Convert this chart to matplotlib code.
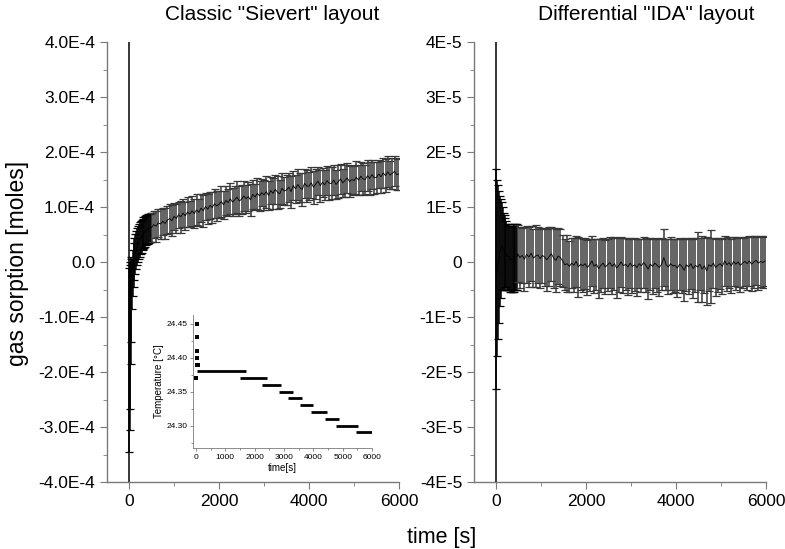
import numpy as np
import matplotlib
matplotlib.use("Agg")
import matplotlib.pyplot as plt
from matplotlib.ticker import MultipleLocator, FuncFormatter

plt.rcParams['font.family'] = ['Liberation Sans', 'DejaVu Sans']

# ---- left panel: classic Sievert (values in 1e-5 moles) ----
sv_t_early = [0, 10, 20, 30, 40, 50] + list(range(60, 500, 20))
sv_y_early = [0, -5, -4.5, -4, -3.5, -3,
              -4, -2, -0.5, 0.5, 1.5, 2.2, 2.8, 3.3, 3.7, 4.1, 4.4,
              4.7, 5.0, 5.2, 5.4, 5.6, 5.8, 5.9, 6.0, 6.1, 6.2, 6.3]
sv_elo_early = [60, 29.5, 26, 22.7, 15, 11.5,
                4.5, 4.2, 4.0, 3.8, 3.6, 3.5, 3.4, 3.3, 3.2, 3.1, 3.0,
                3.0, 2.9, 2.9, 2.8, 2.8, 2.7, 2.7, 2.7, 2.6, 2.6, 2.6]
sv_ehi_early = [60, 4, 4, 4, 4, 4,
                4.5, 4.2, 4.0, 3.8, 3.6, 3.5, 3.4, 3.3, 3.2, 3.1, 3.0,
                3.0, 2.9, 2.9, 2.8, 2.8, 2.7, 2.7, 2.7, 2.6, 2.6, 2.6]
sv_t_late = list(range(500, 6001, 50))
sv_y_late = [6.3, 6.8, 6.5, 7.1, 6.9, 7.4, 7.0, 7.6, 7.9, 7.5,
             8.3, 7.9, 8.6, 8.2, 8.9, 8.4, 9.1, 8.7, 9.3, 8.8,
             9.5, 9.0, 9.8, 9.3, 10.1, 9.6, 10.3, 9.9, 10.6, 10.2,
             10.5, 11.0, 10.4, 11.2, 10.8, 11.5, 10.9, 11.3, 11.8, 11.1,
             11.4, 12.0, 11.5, 11.9, 11.3, 12.3, 11.8, 12.5, 12.0, 12.6,
             12.2, 12.8, 12.1, 13.0, 12.5, 13.2, 12.7, 12.4, 13.4, 12.9,
             13.1, 13.6, 12.8, 13.9, 13.3, 14.1, 13.5, 13.2, 14.3, 13.8,
             13.8, 14.4, 13.6, 14.2, 14.7, 13.9, 14.5, 14.0, 14.8, 14.3,
             14.3, 14.9, 14.1, 14.6, 15.1, 14.4, 14.8, 15.3, 14.6, 15.0,
             14.8, 15.4, 14.9, 15.6, 15.1, 15.0, 15.7, 15.2, 15.9, 15.3,
             15.4, 16.0, 15.5, 16.2, 15.7, 16.4, 15.8, 16.1, 16.5, 15.9,
             16.0]
sv_e_late = [2.6, 2.4, 2.8, 2.5, 2.7, 2.4, 2.9, 2.5, 2.6, 2.8,
             2.5, 2.7, 2.4, 2.9, 2.6, 2.5, 2.8, 2.4, 2.7, 2.6,
             2.8, 2.5, 2.6, 2.9, 2.4, 2.7, 2.5, 2.8, 2.6, 2.7,
             2.5, 2.9, 2.6, 2.7, 2.4, 2.8, 2.6, 2.5, 2.9, 2.7,
             2.6, 2.8, 2.5, 2.7, 2.9, 2.6, 2.4, 2.8, 2.7, 2.5,
             2.7, 2.9, 2.6, 2.5, 2.8, 2.7, 3.0, 2.6, 2.8, 2.5,
             2.8, 2.6, 2.9, 2.7, 2.5, 2.8, 2.6, 3.0, 2.7, 2.9,
             2.6, 2.8, 3.0, 2.7, 2.5, 2.9, 2.6, 2.8, 2.7, 3.0,
             2.9, 2.7, 2.6, 3.0, 2.8, 2.5, 2.9, 2.7, 2.8, 2.6,
             2.7, 3.0, 2.8, 2.6, 2.9, 2.7, 2.8, 3.0, 2.6, 2.9,
             2.8, 2.6, 2.9, 2.7, 3.0, 2.8, 2.6, 2.9, 2.7, 2.8,
             2.9]

# ---- right panel: differential IDA (values in 1e-6 moles) ----
ida_t_early = [0] + list(range(10, 480, 20))
ida_y_early = [0, -3, -1, 0, 1, 2, 2.5, 3, 2.5, 2, 2, 1.5, 1.5, 1, 1, 1,
               0.5, 0.5, 0.5, 0.5, 0.5, 1, 1, 1, 1]
ida_e_early = [60, 20, 16, 14, 12, 10, 9, 8, 7.5, 7, 6.5, 6.5, 6, 6, 6, 6,
               6, 6, 6, 6, 6, 6, 6, 6, 6]
ida_t_late = list(range(480, 6001, 50))
ida_y_late = [1.5, 0.8, 1.2, 0.5, 1.4, 0.9, 1.6, 0.7, 1.1, 1.3,
              0.6, 1.2, 0.9, 0.4, 1.0, 1.5, 0.7, 0.3, 1.1, 0.8,
              0.2, -0.5, -0.3, -0.8, -0.2, -0.6, 0.1, -0.9, -0.4, -0.7,
              -0.3, -1.0, -0.5, 0.2, -0.8, -0.4, -1.2, -0.6, -0.2, -0.9,
              -0.5, -0.1, -0.8, -0.3, -1.1, -0.6, 0.0, -0.7, -0.4, -0.9,
              -0.2, -0.8, -0.5, -1.0, -0.3, -0.7, -0.1, -0.6, -1.3, -0.4,
              -0.8, -0.2, -0.6, -1.0, -0.4, 0.8, -0.5, -0.9, -0.3, -0.7,
              -0.6, -1.1, -0.4, -0.8, -1.5, -0.5, -0.9, -0.3, -1.2, -0.6,
              -0.9, -0.4, -1.3, -0.7, -1.6, -0.5, -0.8, -0.2, -1.0, -0.6,
              -0.3, -0.8, 0.2, -0.5, -0.1, -0.7, 0.1, -0.4, 0.0, -0.6,
              -0.2, 0.1, -0.3, 0.2, -0.4, 0.0, 0.3, -0.2, 0.1, -0.1,
              0.2]
ida_e_late = [5.2, 5.5, 5.0, 5.8, 5.2, 5.4, 5.0, 5.3, 5.6, 5.1,
              5.4, 5.0, 5.2, 5.6, 5.3, 4.9, 5.5, 5.7, 5.1, 5.2,
              4.8, 4.6, 5.2, 4.7, 4.5, 4.9, 4.6, 5.4, 4.7, 4.8,
              4.6, 5.0, 4.7, 4.5, 4.9, 4.6, 5.3, 4.8, 4.5, 4.9,
              4.7, 4.6, 5.1, 4.8, 5.4, 4.9, 4.5, 5.0, 4.7, 5.1,
              4.6, 4.9, 4.8, 5.2, 4.5, 4.8, 4.6, 4.9, 5.4, 4.7,
              5.0, 4.6, 4.8, 5.1, 4.7, 5.2, 4.6, 5.0, 4.8, 4.9,
              4.8, 5.2, 4.7, 4.9, 5.6, 4.8, 5.0, 4.6, 5.3, 4.9,
              6.4, 4.7, 6.0, 5.0, 6.2, 4.8, 6.6, 4.6, 5.2, 4.9,
              4.6, 5.0, 4.5, 4.8, 4.6, 4.9, 4.5, 4.7, 4.6, 4.9,
              4.6, 4.5, 4.8, 4.6, 4.9, 4.7, 4.5, 4.8, 4.6, 4.7,
              4.6]

# ---- inset: temperature ----
temp_pts_t = [0, 20, 20, 20, 30, 30, 80]
temp_pts_y = [24.37, 24.45, 24.43, 24.41, 24.40, 24.39, 24.39]
temp_seg_start = [20, 1500, 2240, 2840, 3125, 3550, 3910, 4400, 4775, 5465]
temp_seg_end = [1700, 2410, 2900, 3300, 3625, 3980, 4460, 4870, 5535, 6000]
temp_seg_y = [24.38, 24.37, 24.36, 24.35, 24.34, 24.33, 24.32, 24.31, 24.30, 24.29]

spine_col = '#7a7a7a'


def style_axes(ax, tick_size, major_len, minor_len):
    for s in ['top', 'right']:
        ax.spines[s].set_visible(False)
    for s in ['left', 'bottom']:
        ax.spines[s].set_color(spine_col)
        ax.spines[s].set_linewidth(1.0)
    ax.tick_params(which='both', direction='out', color=spine_col,
                   labelsize=tick_size)
    ax.tick_params(which='major', length=major_len)
    ax.tick_params(which='minor', length=minor_len)


fig = plt.figure(figsize=(7.85, 5.49), dpi=100)
ax1 = fig.add_axes([107 / 785, 67 / 549, 292 / 785, 440 / 549])
ax2 = fig.add_axes([474 / 785, 67 / 549, 292 / 785, 440 / 549])

eb = dict(fmt='none', elinewidth=1.1, capsize=3, capthick=0.9)

# left: early dense part black, later part grey bars, thin line on top
ax1.errorbar(sv_t_early, np.array(sv_y_early) * 1e-5,
             yerr=[np.array(sv_elo_early) * 1e-5, np.array(sv_ehi_early) * 1e-5],
             ecolor='black', **eb)
ax1.errorbar(sv_t_late, np.array(sv_y_late) * 1e-5,
             yerr=np.array(sv_e_late) * 1e-5, ecolor='#383838', **eb)
ax1.plot(sv_t_early + sv_t_late, np.array(sv_y_early + sv_y_late) * 1e-5,
         color='black', lw=0.6)

ax2.errorbar(ida_t_early, np.array(ida_y_early) * 1e-6,
             yerr=np.array(ida_e_early) * 1e-6, ecolor='black', **eb)
ax2.errorbar(ida_t_late, np.array(ida_y_late) * 1e-6,
             yerr=np.array(ida_e_late) * 1e-6, ecolor='#383838', **eb)
ax2.plot(ida_t_early + ida_t_late, np.array(ida_y_early + ida_y_late) * 1e-6,
         color='black', lw=0.6)

for ax, unit, fmt in [(ax1, 1e-4, lambda v, p: '0.0' if abs(v) < 1e-12 else '%.1fE-4' % (v / 1e-4)),
                      (ax2, 1e-5, lambda v, p: '0' if abs(v) < 1e-12 else '%dE-5' % round(v / 1e-5))]:
    ax.set_xlim(-490, 6000)
    ax.set_ylim(-4 * unit, 4 * unit)
    ax.xaxis.set_major_locator(MultipleLocator(2000))
    ax.xaxis.set_minor_locator(MultipleLocator(1000))
    ax.yaxis.set_major_locator(MultipleLocator(unit))
    ax.yaxis.set_minor_locator(MultipleLocator(unit / 2))
    ax.yaxis.set_major_formatter(FuncFormatter(fmt))
    style_axes(ax, 12.5, 5, 3)

# inset
axi = fig.add_axes([193 / 785, 101 / 549, 179 / 785, 133 / 549])
axi.set_facecolor('none')
axi.hlines(temp_seg_y, temp_seg_start, temp_seg_end, color='black', lw=2.0)
axi.plot(temp_pts_t, temp_pts_y, 's', color='black', ms=2.2, mew=0)
axi.set_xlim(-100, 6000)
axi.set_ylim(24.267, 24.463)
axi.xaxis.set_major_locator(MultipleLocator(1000))
axi.xaxis.set_minor_locator(MultipleLocator(500))
axi.yaxis.set_major_locator(MultipleLocator(0.05))
axi.yaxis.set_minor_locator(MultipleLocator(0.025))
axi.yaxis.set_major_formatter(FuncFormatter(lambda v, p: '%.2f' % v))
style_axes(axi, 6, 2.5, 1.5)
for s in ['left', 'bottom']:
    axi.spines[s].set_linewidth(0.6)
axi.tick_params(which='both', width=0.6, pad=1.5)
axi.set_xlabel('time[s]', fontsize=7, labelpad=2)
axi.set_ylabel('Temperature [°C]', fontsize=7, labelpad=2)

fig.text(272 / 785, 1 - 15 / 549, 'Classic "Sievert" layout', ha='center',
         va='center', fontsize=15)
fig.text(646 / 785, 1 - 15 / 549, 'Differential "IDA" layout', ha='center',
         va='center', fontsize=15)
fig.text(18 / 785, 1 - 263 / 549, 'gas sorption [moles]', rotation=90,
         ha='center', va='center', fontsize=16.5)
fig.text(442 / 785, 1 - 538 / 549, 'time [s]', ha='center', va='center',
         fontsize=15.5)

fig.savefig('out.png', dpi=100)
